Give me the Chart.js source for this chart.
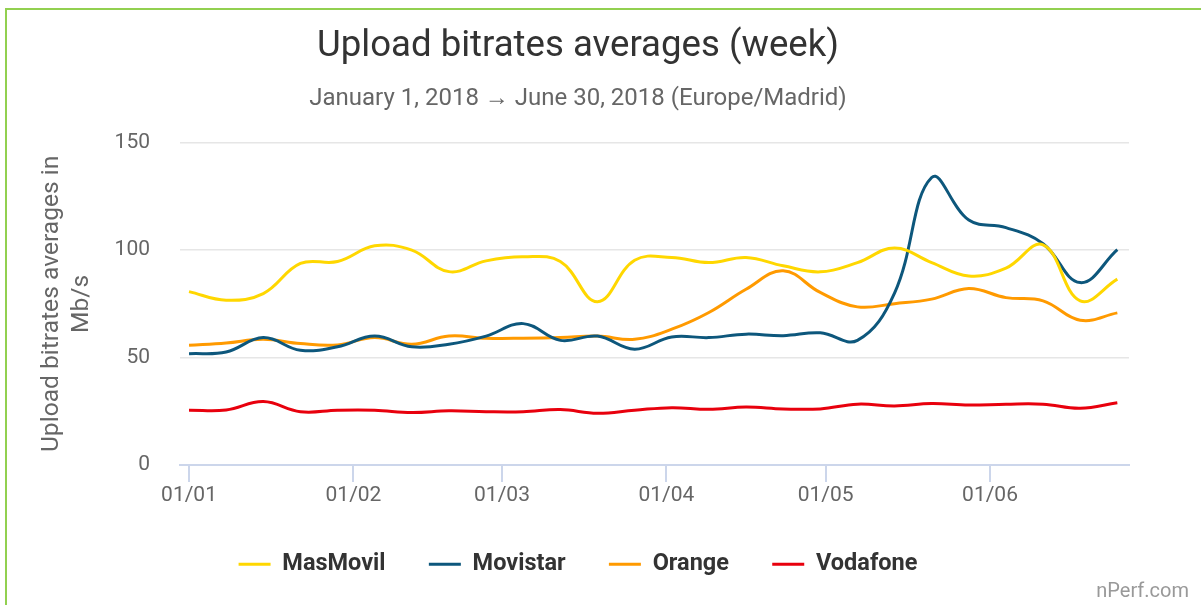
<!DOCTYPE html>
<html><head><meta charset="utf-8">
<script src="https://cdn.jsdelivr.net/npm/chart.js@4.4.1/dist/chart.umd.min.js"></script>
<style>
html,body{margin:0;padding:0;background:#fff;overflow:hidden;}
#wrap{position:relative;width:1201px;height:605px;background:#fff;overflow:hidden;}
#frame{position:absolute;left:5px;top:8px;width:1300px;height:700px;border-left:2px solid #92d050;border-top:2px solid #92d050;pointer-events:none;}
#credit{position:absolute;right:12px;top:578px;font:20px Roboto, sans-serif;color:#999;}
canvas{position:absolute;left:0;top:0;}
</style></head><body>
<div id="wrap"><canvas id="c" width="1201" height="605"></canvas><div id="frame"></div><div id="credit">nPerf.com</div></div>
<script>
// Week start dates (one point per week)
const weekStarts = ['2018-01-01','2018-01-08','2018-01-15','2018-01-22','2018-01-29','2018-02-05','2018-02-12','2018-02-19','2018-02-26','2018-03-05','2018-03-12','2018-03-19','2018-03-26','2018-04-02','2018-04-09','2018-04-16','2018-04-23','2018-04-30','2018-05-07','2018-05-14','2018-05-21','2018-05-28','2018-06-04','2018-06-11','2018-06-18','2018-06-25'];
// Upload bitrate averages, Mb/s
const masMovil = [80.7, 76.7, 79.8, 93.8, 94.7, 102, 100, 90, 95, 96.9, 94.7, 76, 95.3, 96.6, 94.2, 96.6, 92.7, 89.9, 94.2, 101, 94.2, 88, 91.6, 102.5, 76.4, 86.5];
const movistar = [51.8, 52.6, 59.3, 53.4, 55, 60, 55, 56.2, 60, 65.8, 58, 60, 53.9, 59.6, 59.3, 60.9, 60.2, 61.5, 58, 80, 133.8, 114, 110.5, 103, 84.9, 100.2];
const orange   = [55.7, 56.8, 58.5, 56.5, 55.9, 59.3, 56.2, 60, 59, 59, 59.3, 60, 58.5, 63.2, 71, 81.8, 90.4, 80.3, 73.6, 75.1, 77.2, 82.1, 77.9, 76.4, 67.4, 70.8];
const vodafone = [25.5, 25.6, 29.5, 24.8, 25.5, 25.5, 24.4, 25.2, 24.8, 24.8, 25.8, 24.1, 25.5, 26.7, 25.9, 27, 26.1, 26.1, 28.3, 27.5, 28.6, 27.9, 28.3, 28.3, 26.4, 29];
// X-axis ticks (month starts)
const monthTickDates = ['2018-01-01','2018-02-01','2018-03-01','2018-04-01','2018-05-01','2018-06-01'];
const monthTickLabels = ['01/01','01/02','01/03','01/04','01/05','01/06'];
// Y-axis ticks
const yTicks = [0, 50, 100, 150];

const seriesNames = ['MasMovil','Movistar','Orange','Vodafone'];
const seriesColors = ['#ffd700','#0d577c','#ff9a00','#e8000d'];
const seriesValues = [masMovil, movistar, orange, vodafone];

const day0 = Date.UTC(2018,0,1);
const toDay = s => { const [y,m,d] = s.split('-').map(Number); return (Date.UTC(y,m-1,d) - day0) / 86400000; };
const weekDays = weekStarts.map(toDay);
const tickDays = monthTickDates.map(toDay);

const FONT = 'Roboto';
const datasets = seriesValues.map((vals, i) => ({
  label: seriesNames[i],
  data: vals.map((v, j) => ({x: weekDays[j], y: v})),
  borderColor: seriesColors[i],
  backgroundColor: seriesColors[i],
  borderWidth: 3,
  pointRadius: 0,
  pointHoverRadius: 0,
  tension: 0.4,
  fill: false
}));

new Chart(document.getElementById('c'), {
  type: 'line',
  data: { datasets },
  options: {
    responsive: false,
    animation: false,
    devicePixelRatio: 1,
    layout: { padding: { left: 27, right: 72, top: 0, bottom: 19 } },
    plugins: {
      title: {
        display: true,
        text: 'Upload bitrates averages (week)',
        color: '#333333',
        font: { family: FONT, size: 36.6, weight: 'normal', lineHeight: 1.2 },
        padding: { top: 25, bottom: 15.4 }
      },
      subtitle: {
        display: true,
        text: 'January 1, 2018 \u2192 June 30, 2018 (Europe/Madrid)',
        color: '#666666',
        font: { family: FONT, size: 24, weight: 'normal', lineHeight: 1.2 },
        padding: { top: 0, bottom: 29.6 }
      },
      legend: {
        position: 'bottom',
        labels: {
          usePointStyle: true,
          pointStyle: 'line',
          pointStyleWidth: 32,
          padding: 43.3,
          color: '#333333',
          font: { family: FONT, size: 23.5, weight: 'bold', lineHeight: 1 }
        }
      },
      tooltip: { enabled: false }
    },
    scales: {
      x: {
        type: 'linear',
        min: -1.7,
        max: 177.2,
        afterBuildTicks: s => { s.ticks = tickDays.map(v => ({ value: v })); },
        ticks: {
          autoSkip: false,
          maxRotation: 0,
          padding: 1,
          color: '#666666',
          font: { family: FONT, size: 21, lineHeight: 1.2 },
          callback: v => { const k = tickDays.indexOf(v); return k >= 0 ? monthTickLabels[k] : ''; }
        },
        grid: { display: true, drawOnChartArea: false, drawTicks: true, tickLength: 17, color: '#ccd6eb', lineWidth: 2 },
        border: { display: true, color: '#ccd6eb', width: 2 }
      },
      y: {
        min: 0,
        max: 150,
        afterBuildTicks: s => { s.ticks = yTicks.map(v => ({ value: v })); },
        afterFit: s => { s.width = 153; },
        ticks: {
          padding: 30,
          color: '#666666',
          font: { family: FONT, size: 21 }
        },
        grid: { color: '#e6e6e6', lineWidth: 1.5, drawTicks: false },
        border: { display: false },
        title: {
          display: true,
          text: ['Upload bitrates averages in', 'Mb/s'],
          color: '#666666',
          font: { family: FONT, size: 24.6, lineHeight: 30/24.6 },
          padding: { top: 10, bottom: 0 }
        }
      }
    }
  }
});
</script>
</body></html>
